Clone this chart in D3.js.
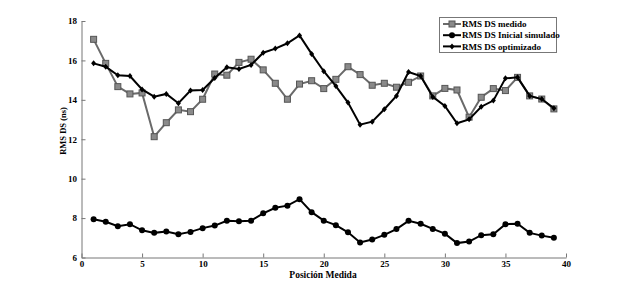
<!DOCTYPE html>
<html><head><meta charset="utf-8">
<script src="https://cdn.jsdelivr.net/npm/d3@7"></script>
<style>body{margin:0;background:#fff}svg{display:block}text{font-family:"Liberation Serif","DejaVu Serif",serif;font-weight:bold}</style>
</head><body><svg id="c" width="626" height="290"></svg>
<script>
const positions = d3.range(1, 40);
const medido = [17.07,15.85,14.67,14.3,14.35,12.13,12.84,13.49,13.4,14.03,15.31,15.25,15.9,16.06,15.52,14.84,14.03,14.8,14.97,14.57,15.04,15.68,15.28,14.74,14.84,14.64,14.89,15.21,14.2,14.58,14.5,13.12,14.13,14.57,14.47,15.14,14.2,14.04,13.54];
const inicial = [7.94,7.81,7.59,7.69,7.38,7.25,7.32,7.18,7.3,7.49,7.62,7.86,7.84,7.87,8.24,8.52,8.63,8.96,8.3,7.87,7.64,7.28,6.76,6.91,7.15,7.44,7.86,7.71,7.45,7.21,6.73,6.81,7.13,7.18,7.69,7.71,7.25,7.11,7.0];
const optimizado = [15.85,15.68,15.25,15.21,14.53,14.16,14.3,13.83,14.47,14.5,15.11,15.65,15.57,15.77,16.39,16.6,16.87,17.27,16.33,15.45,14.7,13.86,12.74,12.89,13.52,14.2,15.41,15.21,14.15,13.69,12.81,13.01,13.65,13.96,15.09,15.14,14.2,14.04,13.57];
const xTicks = [0,5,10,15,20,25,30,35,40];
const yTicks = [6,8,10,12,14,16,18];
const seriesNames = ["RMS DS medido","RMS DS Inicial simulado","RMS DS optimizado"];

const svg = d3.select("#c");
const x = d3.scaleLinear().domain([0,40]).range([81.5,566]);
const y = d3.scaleLinear().domain([6,18]).range([257.5,21]);

const xa = svg.append("g").attr("transform","translate(0,257.5)")
  .call(d3.axisBottom(x).tickValues(xTicks).tickSizeInner(-4).tickSizeOuter(0).tickPadding(3.5));
const ya = svg.append("g").attr("transform","translate(81.5,0)")
  .call(d3.axisLeft(y).tickValues(yTicks).tickSizeInner(-4).tickSizeOuter(0).tickPadding(4.5));
[xa,ya].forEach(a=>{
  a.selectAll("path,line").attr("stroke","#777").attr("stroke-width",1);
  a.selectAll("text").attr("font-size",9).attr("fill","#000").attr("font-family","Liberation Serif, serif").attr("font-weight","bold");
});

svg.append("text").attr("x",323).attr("y",278).attr("text-anchor","middle").attr("font-size",9.5).text("Posición Medida");
svg.append("text").attr("transform","translate(66,131) rotate(-90)").attr("text-anchor","middle").attr("font-size",8.5).text("RMS DS (ns)");

const line = d3.line().x((d,i)=>x(positions[i])).y(d=>y(d));

function drawSeries(data, color, marker){
  svg.append("path").datum(data).attr("d",line).attr("fill","none").attr("stroke",color).attr("stroke-width",2);
  const g = svg.append("g");
  data.forEach((d,i)=>drawMarker(g, x(positions[i]), y(d), marker));
}
function drawMarker(g, cx, cy, marker){
  if(marker==="square"){
    g.append("rect").attr("x",cx-3).attr("y",cy-3).attr("width",6).attr("height",6).attr("fill","#8a8a8a").attr("stroke","#555").attr("stroke-width",1);
  } else if(marker==="circle"){
    g.append("circle").attr("cx",cx).attr("cy",cy).attr("r",3).attr("fill","#000");
  } else {
    g.append("path").attr("d",`M${cx},${cy-3}L${cx+2.5},${cy}L${cx},${cy+3}L${cx-2.5},${cy}Z`).attr("fill","#000");
  }
}
drawSeries(medido, "#6a6a6a", "square");
drawSeries(inicial, "#000", "circle");
drawSeries(optimizado, "#000", "diamond");

// legend
const lg = svg.append("g");
lg.append("rect").attr("x",439.5).attr("y",17.5).attr("width",117).attr("height",35).attr("fill","#fff").attr("stroke","#777");
const lcol = ["#6a6a6a","#000","#000"], lmk = ["square","circle","diamond"];
seriesNames.forEach((n,i)=>{
  const ly = 24 + i*11.2;
  lg.append("line").attr("x1",443).attr("x2",461).attr("y1",ly).attr("y2",ly).attr("stroke",lcol[i]).attr("stroke-width",2);
  drawMarker(lg, 452, ly, lmk[i]);
  lg.append("text").attr("x",462).attr("y",ly+3.2).attr("font-size",9).text(n);
});
</script></body></html>
